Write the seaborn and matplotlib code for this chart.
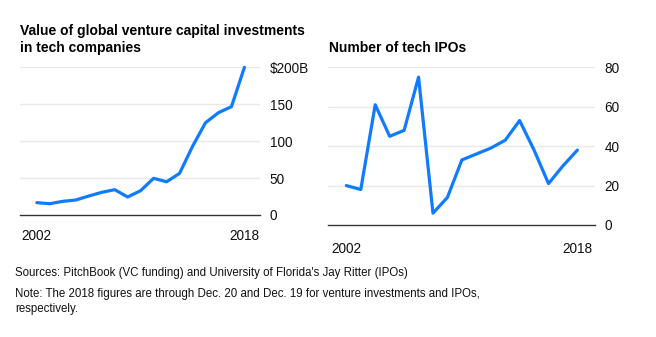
import matplotlib
matplotlib.use("Agg")
import matplotlib.pyplot as plt
import pandas as pd
import seaborn as sns

# Annual tech venture capital investment ($B) and tech IPO counts
years = list(range(2002, 2019))
vc_billions = [16.7, 15.3, 18.5, 20.3, 25.7, 30.7, 34.3, 24.4, 33.0, 49.7,
               45.0, 56.4, 93.0, 125.0, 138.6, 146.7, 200.0]
tech_ipos = [20, 18, 61, 45, 48, 75, 6, 14, 33, 36, 39, 43, 53, 38, 21, 30, 38]

vc_ticks = [0, 50, 100, 150, 200]
vc_tick_labels = ["0", "50", "100", "150", "$200B"]
ipo_ticks = [0, 20, 40, 60, 80]
ipo_tick_labels = ["0", "20", "40", "60", "80"]
year_ticks = [2002, 2018]

left_title = ["Value of global venture capital investments", "in tech companies"]
right_title = "Number of tech IPOs"
footer_lines = [
    "Sources: PitchBook (VC funding) and University of Florida's Jay Ritter (IPOs)",
    "Note: The 2018 figures are through Dec. 20 and Dec. 19 for venture investments and IPOs,",
    "respectively.",
]

df = pd.DataFrame({"year": years, "vc": vc_billions, "ipos": tech_ipos})

sns.set_theme(style="white")
plt.rcParams["font.family"] = ["Liberation Sans", "DejaVu Sans"]

W, H = 656, 337
fig = plt.figure(figsize=(W / 100, H / 100), dpi=100)
fig.patch.set_facecolor("white")

LINE = "#0f7bff"
GRID = "#e9e9e9"
AXIS = "#333333"
TICKFS = 9.8


def px_axes(x0, x1, ytop, ybot):
    return fig.add_axes([x0 / W, 1 - ybot / H, (x1 - x0) / W, (ybot - ytop) / H])


def style(ax, ticks, labels, ymax, xlim):
    ax.set_xlim(*xlim)
    ax.set_ylim(0, ymax)
    for s in ["top", "left", "right"]:
        ax.spines[s].set_visible(False)
    ax.spines["bottom"].set_color(AXIS)
    ax.spines["bottom"].set_linewidth(1)
    ax.yaxis.tick_right()
    ax.set_yticks(ticks)
    ax.set_yticklabels(labels, fontsize=TICKFS, color="#111111")
    ax.tick_params(axis="y", length=0, pad=7)
    for t in ticks[1:]:
        ax.axhline(t, color=GRID, lw=1, zorder=0)
    ax.set_xticks(year_ticks)
    ax.set_xticklabels([str(y) for y in year_ticks], fontsize=TICKFS, color="#111111")
    ax.tick_params(axis="x", length=4, width=1, color=AXIS, pad=6, direction="out")
    ax.set_xlabel("")
    ax.set_ylabel("")
    ax.grid(False)


ax1 = px_axes(20, 260, 67.3, 215)
sns.lineplot(data=df, x="year", y="vc", ax=ax1, color=LINE, lw=2.3,
             clip_on=False, zorder=3)
style(ax1, vc_ticks, vc_tick_labels, 200, (2000.7, 2019.2))

ax2 = px_axes(328, 595, 67.3, 225)
sns.lineplot(data=df, x="year", y="ipos", ax=ax2, color=LINE, lw=2.3,
             clip_on=False, zorder=3)
style(ax2, ipo_ticks, ipo_tick_labels, 80, (2000.73, 2019.22))
ax2.tick_params(axis="x", pad=8)

for line, base in zip(left_title, [35, 52]):
    fig.text(20 / W, 1 - base / H, line, fontsize=10, fontweight="bold",
             va="baseline", ha="left", color="#000000")
fig.text(329 / W, 1 - 52 / H, right_title, fontsize=10, fontweight="bold",
         va="baseline", ha="left", color="#000000")

for line, base in zip(footer_lines, [276, 297, 312]):
    fig.text(15 / W, 1 - base / H, line, fontsize=8.3,
             va="baseline", ha="left", color="#111111")

fig.savefig("out.png", dpi=100, facecolor="white")
